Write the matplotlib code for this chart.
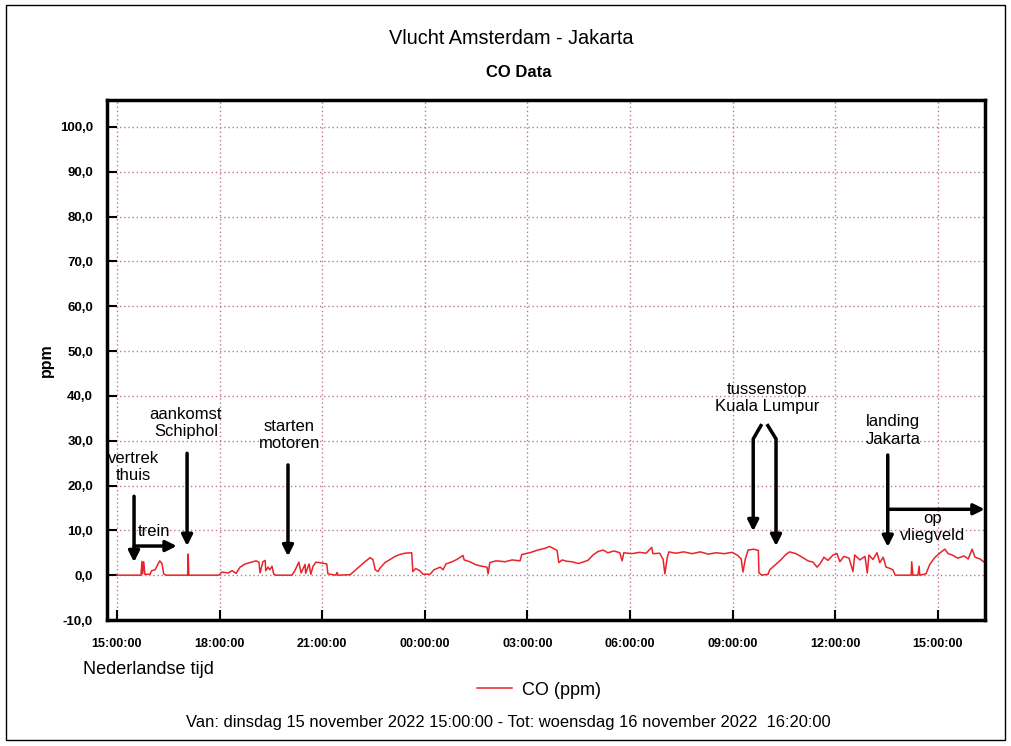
import matplotlib.pyplot as plt
from matplotlib.patches import Rectangle

plt.rcParams['font.family'] = ['Liberation Sans', 'DejaVu Sans']

t_min = [0, 42, 44, 45, 47, 49, 58, 61, 67, 72, 75, 79, 82, 86, 124, 125, 126,
         179, 184, 195, 202, 209, 216, 225, 233, 244, 249, 251, 256, 260, 261,
         265, 268, 272, 275, 279, 307, 312, 319, 323, 330, 331, 337, 340, 344,
         349, 360, 368, 370, 384, 386, 388, 409, 417, 426, 435, 444, 449, 453,
         458, 461, 470, 479, 488, 496, 505, 517, 519, 524, 531, 537, 549, 556,
         567, 572, 577, 588, 596, 607, 609, 619, 630, 640, 649, 651, 654, 665,
         681, 693, 707, 710, 724, 738, 751, 759, 768, 772, 775, 781, 789, 798,
         809, 817, 826, 835, 844, 853, 861, 872, 882, 886, 889, 903, 917, 928,
         938, 940, 952, 958, 961, 965, 968, 980, 994, 1009, 1023, 1037, 1051,
         1065, 1079, 1089, 1095, 1098, 1102, 1107, 1117, 1125, 1126, 1131, 1142,
         1145, 1152, 1159, 1166, 1173, 1180, 1191, 1202, 1212, 1221, 1228, 1233,
         1240, 1247, 1256, 1263, 1268, 1275, 1284, 1291, 1294, 1303, 1312, 1316,
         1319, 1326, 1333, 1338, 1344, 1349, 1356, 1361, 1365, 1393, 1394, 1396,
         1405, 1407, 1408, 1419, 1426, 1435, 1444, 1452, 1458, 1465, 1475, 1486,
         1493, 1500, 1505, 1514, 1520]
co_ppm = [0, 0, 3.1, 0.3, 3.0, 0.2, 0.2, 1.0, 1.2, 2.5, 3.2, 2.6, 0.3, 0, 0, 4.7, 0,
          0, 0.7, 0.5, 1.0, 0.4, 1.8, 2.5, 2.8, 3.2, 2.9, 0.5, 3.0, 3.3, 1.0,
          1.8, 1.2, 2.0, 0.2, 0, 0, 1.0, 2.9, 0.5, 2.4, 0.4, 2.5, 0.2, 2.0,
          2.9, 2.7, 2.5, 0.3, 0, 0.6, 0, 0.1, 1.0, 2.0, 3.0, 3.9, 3.5, 1.2,
          0.8, 1.5, 2.8, 3.5, 4.2, 4.6, 4.9, 5.0, 0.8, 1.5, 1.0, 0.2, 0.2, 1.2,
          1.8, 1.2, 2.5, 3.0, 3.5, 4.4, 3.4, 3.0, 2.3, 2.0, 1.8, 0.3, 2.8, 3.2,
          3.0, 3.4, 3.2, 4.6, 5.0, 5.6, 6.0, 6.4, 5.8, 5.5, 2.8, 3.4, 3.1, 3.0,
          2.6, 2.9, 3.3, 4.5, 5.3, 5.6, 5.0, 5.4, 5.0, 3.2, 5.0, 4.8, 5.1, 4.9,
          6.2, 4.8, 4.9, 3.5, 0.3, 3.8, 5.2, 4.9, 5.2, 4.8, 5.2, 4.7, 5.0,
          4.8, 5.1, 4.4, 3.6, 0.7, 3.5, 5.6, 5.8, 5.5, 0.5, 0, 0.2,
          1.2, 2.0, 2.8, 3.6, 4.6, 5.2, 4.8, 4.0, 3.2, 2.9, 1.8, 2.5,
          4.0, 3.3, 4.5, 4.8, 3.0, 4.2, 3.8, 0.8, 4.5, 3.4, 4.2, 0.5,
          4.5, 3.5, 5.0, 2.8, 4.0, 1.8, 1.5, 1.2, 0, 0, 3.0, 0,
          0, 2.0, 0, 0.3, 2.5, 4.0, 5.0, 5.8, 4.8, 4.5, 3.8, 4.3,
          3.6, 5.8, 4.0, 3.6, 3.0]

x_ticks = [0, 180, 360, 540, 720, 900, 1080, 1260, 1440]
x_labels = ["15:00:00", "18:00:00", "21:00:00", "00:00:00", "03:00:00",
            "06:00:00", "09:00:00", "12:00:00", "15:00:00"]
y_ticks = list(range(-10, 101, 10))
y_labels = [f"{v},0" for v in y_ticks]

fig = plt.figure(figsize=(10.12, 7.46), dpi=100)
fig.patches.append(Rectangle((0.006, 0.008), 0.987, 0.985, transform=fig.transFigure,
                             fill=False, edgecolor='black', linewidth=1))
ax = fig.add_axes([0.1057, 0.1689, 0.8676, 0.697])

ax.plot(t_min, co_ppm, color='#e8242a', linewidth=1.1, label='CO (ppm)')

ax.set_xlim(-17.5, 1522.5)
ax.set_ylim(-10, 106)
ax.set_xticks(x_ticks)
ax.set_xticklabels(x_labels, fontsize=9, fontweight='bold')
ax.set_yticks(y_ticks)
ax.set_yticklabels(y_labels, fontsize=9.5, fontweight='bold')
ax.tick_params(direction='in', length=7, width=1.5, pad=10)
ax.tick_params(axis='x', pad=13)
ax.grid(True, color='#c07888', linestyle=(0, (1, 2)), linewidth=1)
for s in ax.spines.values():
    s.set_linewidth(2.5)

ax.set_ylabel('ppm', fontsize=11.5, fontweight='bold', labelpad=4)
fig.text(0.505, 0.949, 'Vlucht Amsterdam - Jakarta', ha='center', va='center', fontsize=14.3)
fig.text(0.513, 0.903, 'CO Data', ha='center', va='center', fontsize=12, fontweight='bold')
fig.text(0.082, 0.103, 'Nederlandse tijd', ha='left', va='center', fontsize=13)
fig.text(0.502, 0.032, 'Van: dinsdag 15 november 2022 15:00:00 - Tot: woensdag 16 november 2022  16:20:00',
         ha='center', va='center', fontsize=11.9)
fig.legend(loc='center', bbox_to_anchor=(0.533, 0.075), frameon=False, fontsize=13,
           handlelength=1.9, handletextpad=0.6)

# annotaties
arrow = dict(arrowstyle='-|>', color='black', lw=2.5, mutation_scale=16, shrinkA=0, shrinkB=0)
fs = 12
ax.text(29, 24.1, 'vertrek\nthuis', ha='center', va='center', fontsize=fs)
ax.annotate('', xy=(30, 2.9), xytext=(30, 17.6), arrowprops=arrow)
ax.annotate('', xy=(105, 6.5), xytext=(30, 6.5), arrowprops=arrow)
ax.text(65, 9.8, 'trein', ha='center', va='center', fontsize=fs)
ax.text(121, 33.9, 'aankomst\nSchiphol', ha='center', va='center', fontsize=fs)
ax.annotate('', xy=(123, 6.5), xytext=(123, 27.2), arrowprops=arrow)
ax.text(302, 31.3, 'starten\nmotoren', ha='center', va='center', fontsize=fs)
ax.annotate('', xy=(300, 4.2), xytext=(300, 24.6), arrowprops=arrow)
ax.text(1140, 39.5, 'tussenstop\nKuala Lumpur', ha='center', va='center', fontsize=fs)
ax.plot([1131, 1116], [33.7, 30.4], color='black', lw=2.5, solid_capstyle='butt')
ax.annotate('', xy=(1116, 9.8), xytext=(1116, 30.4), arrowprops=arrow)
ax.plot([1140, 1156], [33.7, 30.4], color='black', lw=2.5, solid_capstyle='butt')
ax.annotate('', xy=(1156, 6.5), xytext=(1156, 30.4), arrowprops=arrow)
ax.text(1361, 32.3, 'landing\nJakarta', ha='center', va='center', fontsize=fs)
ax.annotate('', xy=(1352, 6.3), xytext=(1352, 26.8), arrowprops=arrow)
ax.annotate('', xy=(1522, 14.7), xytext=(1352, 14.7), arrowprops=arrow, annotation_clip=False)
ax.text(1431, 10.7, 'op\nvliegveld', ha='center', va='center', fontsize=fs)

fig.savefig('out.png', dpi=100)
